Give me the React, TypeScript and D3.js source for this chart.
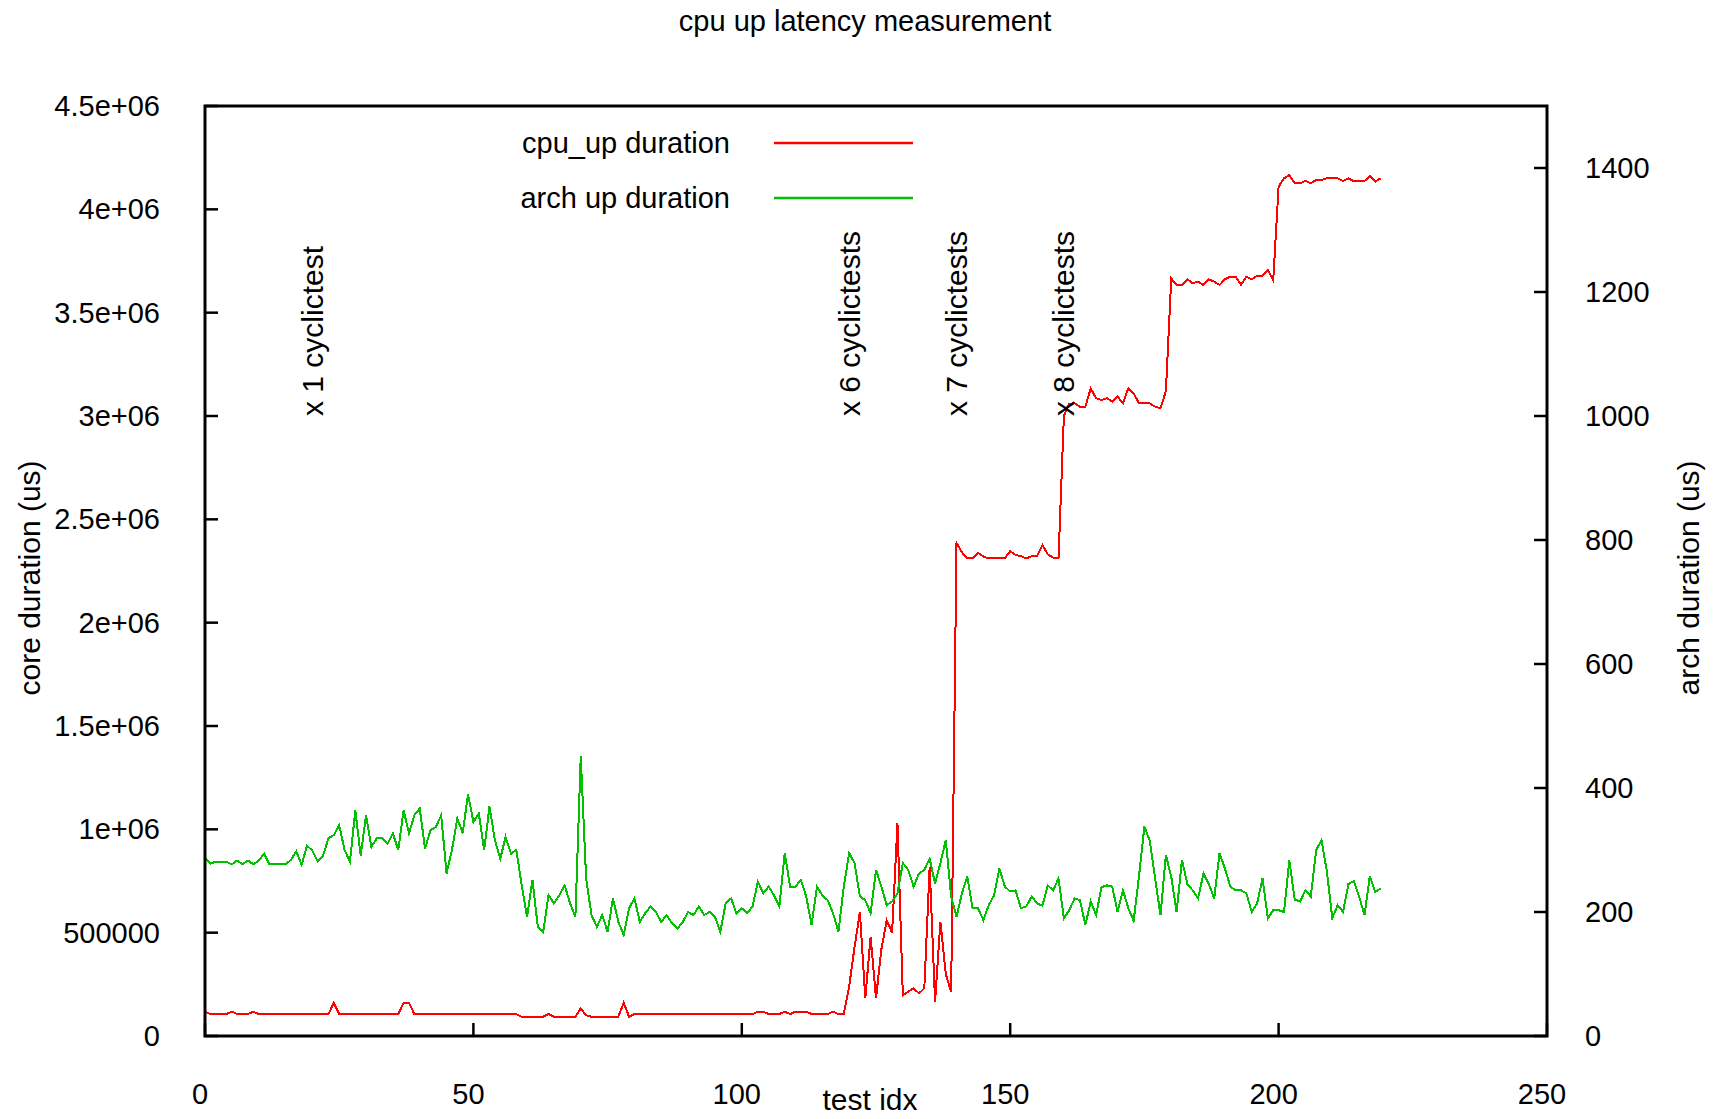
import {useEffect, useRef} from "react";
import * as d3 from "d3";

// cpu_up duration (us), one value per test idx starting at 0
const cpuUp = [
    118000, 106000, 106000, 106000, 106000, 118000, 106000, 106000, 106000, 118000,
    106000, 106000, 106000, 106000, 106000, 106000, 106000, 106000, 106000, 106000,
    106000, 106000, 106000, 106000, 161000, 106000, 106000, 106000, 106000, 106000,
    106000, 106000, 106000, 106000, 106000, 106000, 106000, 161000, 161000, 106000,
    106000, 106000, 106000, 106000, 106000, 106000, 106000, 106000, 106000, 106000,
    106000, 106000, 106000, 106000, 106000, 106000, 106000, 106000, 106000, 93000,
    93000, 93000, 93000, 93000, 106000, 93000, 93000, 93000, 93000, 93000,
    134000, 100000, 93000, 93000, 93000, 93000, 93000, 93000, 161000, 93000,
    106000, 106000, 106000, 106000, 106000, 106000, 106000, 106000, 106000, 106000,
    106000, 106000, 106000, 106000, 106000, 106000, 106000, 106000, 106000, 106000,
    106000, 106000, 106000, 118000, 118000, 106000, 106000, 106000, 118000, 106000,
    118000, 118000, 118000, 106000, 106000, 106000, 106000, 118000, 106000, 106000,
    240000, 430000, 600000, 182000, 481000, 182000, 420000, 560000, 500000, 1029000,
    197000, 214000, 231000, 206000, 231000, 819000, 166000, 553000, 300000, 213000,
    2386000, 2340000, 2311000, 2311000, 2338000, 2320000, 2311000, 2311000, 2311000, 2311000,
    2346000, 2328000, 2322000, 2311000, 2322000, 2322000, 2376000, 2330000, 2315000, 2311000,
    3000000, 3060000, 3061000, 3045000, 3045000, 3134000, 3086000, 3078000, 3086000, 3070000,
    3094000, 3061000, 3134000, 3110000, 3061000, 3061000, 3061000, 3045000, 3037000, 3120000,
    3666000, 3634000, 3634000, 3661000, 3642000, 3650000, 3634000, 3661000, 3650000, 3634000,
    3661000, 3674000, 3674000, 3634000, 3674000, 3661000, 3678000, 3678000, 3707000, 3658000,
    4110000, 4150000, 4166000, 4126000, 4126000, 4138000, 4126000, 4142000, 4142000, 4150000,
    4150000, 4150000, 4137000, 4150000, 4137000, 4137000, 4137000, 4160000, 4134000, 4150000,
];

// arch up duration (us), right axis
const archUp = [
    288, 278, 281, 281, 281, 277, 283, 277, 283, 277,
    283, 294, 277, 277, 277, 277, 284, 298, 276, 307,
    299, 282, 291, 319, 324, 340, 300, 281, 364, 291,
    356, 305, 319, 319, 310, 327, 300, 364, 327, 356,
    367, 302, 332, 337, 356, 262, 300, 351, 327, 390,
    345, 359, 300, 370, 316, 286, 321, 294, 300, 243,
    192, 252, 176, 168, 227, 214, 227, 243, 214, 192,
    451, 254, 195, 176, 195, 168, 222, 184, 163, 206,
    222, 184, 198, 209, 200, 184, 195, 182, 173, 184,
    200, 195, 209, 195, 200, 192, 168, 214, 222, 198,
    206, 198, 209, 249, 230, 241, 227, 209, 295, 241,
    241, 252, 225, 179, 241, 227, 219, 198, 168, 241,
    295, 279, 225, 219, 198, 268, 241, 211, 217, 230,
    279, 268, 241, 262, 268, 286, 246, 279, 316, 225,
    192, 230, 257, 206, 206, 187, 211, 227, 270, 241,
    233, 235, 206, 209, 225, 214, 210, 243, 235, 254,
    190, 203, 222, 219, 179, 217, 195, 240, 243, 241,
    200, 235, 206, 186, 258, 338, 315, 254, 195, 292,
    257, 200, 284, 245, 235, 222, 262, 245, 222, 295,
    270, 241, 235, 235, 230, 200, 214, 254, 190, 203,
    203, 200, 283, 220, 217, 235, 225, 300, 316, 265,
    190, 211, 200, 245, 250, 225, 195, 258, 232, 238,
];

const xTicks = [0, 50, 100, 150, 200, 250];
const yTicks = [0, 500000, 1000000, 1500000, 2000000, 2500000, 3000000, 3500000, 4000000, 4500000];
const yTickLabels = ["0", "500000", "1e+06", "1.5e+06", "2e+06", "2.5e+06", "3e+06", "3.5e+06", "4e+06", "4.5e+06"];
const y2Ticks = [0, 200, 400, 600, 800, 1000, 1200, 1400];

const markerIdx = [20, 120, 140, 160];
const markerText = ["x 1 cyclictest", "x 6 cyclictests", "x 7 cyclictests", "x 8 cyclictests"];

const seriesNames = ["cpu_up duration", "arch up duration"];
const seriesColors = ["#ff0000", "#00c000"];

const W = 1717, H = 1119;
const FONT = "'Liberation Sans', Arial, sans-serif";

const App = () => {
    const ref = useRef(null);

    useEffect(() => {
        const svg = d3.select(ref.current);
        svg.selectAll("*").remove();
        svg.append("rect").attr("width", W).attr("height", H).attr("fill", "#fff");

        const left = 205, right = 1547, top = 106, bottom = 1036;
        const x = d3.scaleLinear().domain([0, 250]).range([left, right]);
        const y = d3.scaleLinear().domain([0, 4500000]).range([bottom, top]);
        const y2 = d3.scaleLinear().domain([0, 1500]).range([bottom, top]);
        const tick = 13;

        const text = (tx, ty, s, size, anchor) =>
            svg.append("text").attr("x", tx).attr("y", ty).attr("font-family", FONT)
                .attr("font-size", size).attr("text-anchor", anchor).attr("fill", "#000").text(s);

        // ticks
        const g = svg.append("g").attr("stroke", "#000").attr("stroke-width", 2.5);
        yTicks.forEach(v => g.append("line").attr("x1", left).attr("x2", left + tick).attr("y1", y(v)).attr("y2", y(v)));
        y2Ticks.forEach(v => g.append("line").attr("x1", right - tick).attr("x2", right).attr("y1", y2(v)).attr("y2", y2(v)));
        xTicks.forEach(v => g.append("line").attr("x1", x(v)).attr("x2", x(v)).attr("y1", bottom).attr("y2", bottom - tick));

        yTicks.forEach((v, i) => text(160, y(v) + 10, yTickLabels[i], 29, "end"));
        y2Ticks.forEach(v => text(1585, y2(v) + 10, String(v), 29, "start"));
        xTicks.forEach(v => text(x(v) - 5, 1104, String(v), 29, "middle"));

        // data, aliased like the gnuplot png
        const lineL = d3.line().x((d, i) => x(i)).y(d => y(d));
        const lineR = d3.line().x((d, i) => x(i)).y(d => y2(d));
        svg.append("path").attr("d", lineL(cpuUp)).attr("fill", "none")
            .attr("stroke", seriesColors[0]).attr("stroke-width", 2).attr("shape-rendering", "crispEdges");
        svg.append("path").attr("d", lineR(archUp)).attr("fill", "none")
            .attr("stroke", seriesColors[1]).attr("stroke-width", 2).attr("shape-rendering", "crispEdges");

        // cyclictest markers
        markerIdx.forEach((m, i) => {
            text(0, 0, markerText[i], 30, "start")
                .attr("dominant-baseline", "central")
                .attr("transform", `translate(${x(m)},${y(3000000)}) rotate(-90)`);
        });

        // border
        svg.append("rect").attr("x", left).attr("y", top).attr("width", right - left).attr("height", bottom - top)
            .attr("fill", "none").attr("stroke", "#000").attr("stroke-width", 3);

        // legend
        seriesNames.forEach((s, i) => {
            const ly = 143 + i * 55;
            text(730, ly + 10, s, 29, "end");
            svg.append("line").attr("x1", 774).attr("x2", 913).attr("y1", ly).attr("y2", ly)
                .attr("stroke", seriesColors[i]).attr("stroke-width", 2.5);
        });

        // titles
        text(865, 31, "cpu up latency measurement", 29, "middle");
        text(870, 1110, "test idx", 30, "middle");
        text(0, 0, "core duration (us)", 30, "middle").attr("dominant-baseline", "central")
            .attr("transform", `translate(29,578) rotate(-90)`);
        text(0, 0, "arch duration (us)", 30, "middle").attr("dominant-baseline", "central")
            .attr("transform", `translate(1688,578) rotate(-90)`);
    }, []);

    return <svg ref={ref} width={W} height={H} style={{position: "absolute", left: 0, top: 0}}/>;
};

export default App;
